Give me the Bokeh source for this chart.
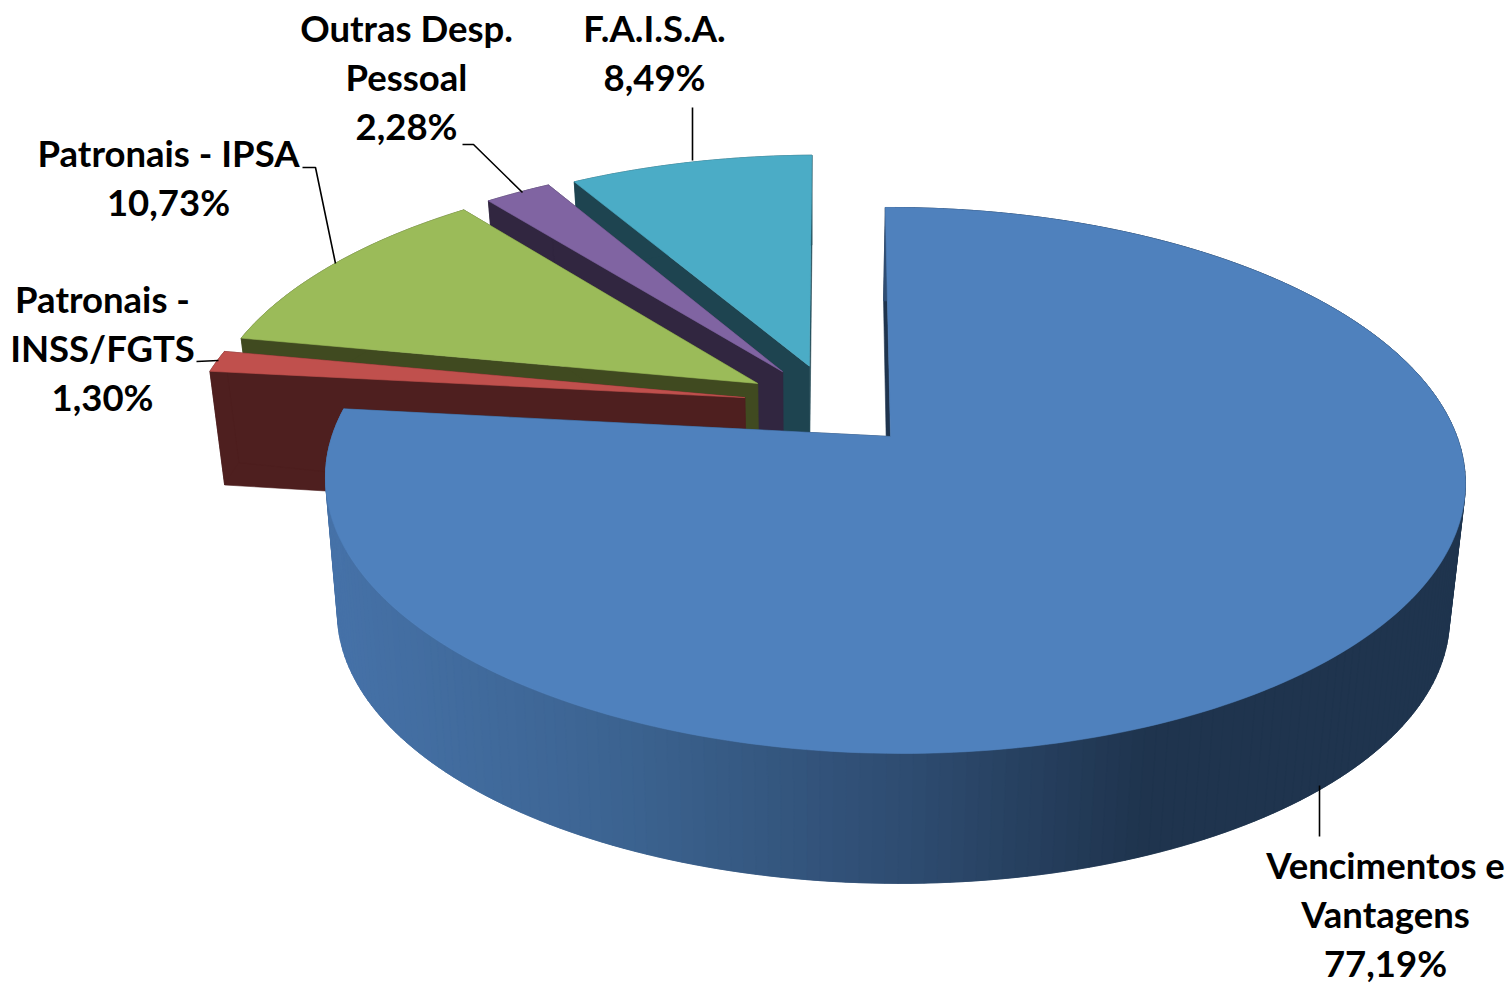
import numpy as np
from bokeh.plotting import figure
from bokeh.embed import file_html
from bokeh.resources import INLINE
from bokeh.core.properties import value

# ---- data (clockwise from 12 o'clock) ----
categories = ["Vencimentos e Vantagens", "Patronais - INSS/FGTS", "Patronais - IPSA",
              "Outras Desp. Pessoal", "F.A.I.S.A."]
shares = [77.19, 1.30, 10.73, 2.28, 8.49]
label_lines = [["Vencimentos e", "Vantagens"], ["Patronais -", "INSS/FGTS"],
               ["Patronais - IPSA"], ["Outras Desp.", "Pessoal"], ["F.A.I.S.A."]]

# ---- styles / layout ----
top_colors = ["#4F81BD", "#C0504D", "#9BBB59", "#8064A2", "#4BACC6"]
wall_colors = [None, "#4E1F1F", "#404A20", "#312640", "#1E4450"]
label_cx = [1385, 102, 168, 406, 654]
label_y0 = [879, 313, 167, 42, 42]
TEXT_DY = -15
line_h = 49.2
leaders = [([1319, 1319], [785, 836]),
           ([196, 218], [361, 360]),
           ([302, 315, 335], [167, 167, 263]),
           ([462, 473, 522], [144, 144, 192]),
           ([692, 692], [107, 160])]

# projection of the pie plane on the page (perspective)
X0, Y0, A, B, C, K, M = 890.0, 436.0, 562.5, 265.9, -5.5, 0.161, -0.007
EXPLODE = 0.161
RAD = [1.0, 1.01, 1.01, 1.008, 1.0]
VPX, SHRINK = 811.0, 0.0245
D_Y, D_V = [180, 373, 490, 753], [90, 114, 135, 130]
# small angular correction of the projection towards the far left of the pie (degrees)
WARP_AT, WARP_BY = [0, 270, 285, 320, 345, 360], [0.05, 1.9, 1.7, 0.0, 0.0, 0.45]


def project(u, v):
    w = 1 + K * v + M * u
    return X0 + (A * u + C * v) / w, Y0 - B * v / w


def lower(x, y):
    return x - SHRINK * (x - VPX), y + np.interp(y, D_Y, D_V)


def warp(th):
    return th - np.radians(np.interp(np.degrees(th), WARP_AT, WARP_BY))


def wall_shade(x):
    stops_x = [330, 600, 900, 1150, 1470]
    stops = np.array([[0x46, 0x72, 0xA8], [0x3D, 0x65, 0x93], [0x2F, 0x4D, 0x72],
                      [0x1F, 0x34, 0x4E], [0x1F, 0x34, 0x4E]])
    return "#%02x%02x%02x" % tuple(int(np.interp(x, stops_x, stops[:, i])) for i in range(3))


fracs = np.array(shares) / sum(shares)
ends = np.cumsum(fracs) * 2 * np.pi
starts = ends - fracs * 2 * np.pi
bis = (starts + ends) / 2
cu, cv = -EXPLODE * np.sin(bis[0]), -EXPLODE * np.cos(bis[0])  # pie centre, blue slice is at (0,0)

p = figure(width=1512, height=984, x_range=(0, 1512), y_range=(984, 0),
           output_backend="svg", toolbar_location=None, min_border=0)
p.axis.visible = False
p.grid.visible = False
p.outline_line_color = None
p.background_fill_color = "white"
p.border_fill_color = "white"


def poly(xs, ys, color):
    p.patch(list(xs), list(ys), fill_color=color, line_color=color, line_width=0.6)


for i in [4, 3, 2, 1, 0]:
    au = cu + EXPLODE * np.sin(bis[i])
    av = cv + EXPLODE * np.cos(bis[i])
    n = max(6, int((ends[i] - starts[i]) / 0.02))
    th = warp(np.linspace(starts[i], ends[i], n))
    ax, ay = project(au, av)
    rx, ry = project(au + RAD[i] * np.sin(th), av + RAD[i] * np.cos(th))
    lax, lay = lower(ax, ay)
    lrx, lry = lower(rx, ry)
    edge_col = wall_colors[i] or "#1F344E"
    # cut faces
    poly([ax, rx[0], lrx[0], lax], [ay, ry[0], lry[0], lay], edge_col)
    poly([ax, rx[-1], lrx[-1], lax], [ay, ry[-1], lry[-1], lay], edge_col)
    # outer rim
    if wall_colors[i]:
        poly(list(rx) + list(lrx[::-1]), list(ry) + list(lry[::-1]), edge_col)
    else:
        for j in range(n - 1):
            k = min(j + 2, n - 1)  # overlap the next facet so that no seams show
            poly([rx[j], rx[k], lrx[k], lrx[j]], [ry[j], ry[k], lry[k], lry[j]],
                 wall_shade((rx[j] + rx[j + 1]) / 2))
    # top face
    poly([ax] + list(rx), [ay] + list(ry), top_colors[i])

for (lx, ly) in leaders:
    p.line(lx, ly, line_color="black", line_width=1.6)

for i in range(len(shares)):
    pct = f"{shares[i]:.2f}%".replace(".", ",")
    for j, s in enumerate(label_lines[i] + [pct]):
        p.text([label_cx[i]], [label_y0[i] + j * line_h + TEXT_DY], text=[s], text_align="center",
               text_baseline="alphabetic", text_font=value("Lato"), text_font_style="bold",
               text_font_size="36.5px", text_color="black")

open("out.html", "w").write(file_html(p, INLINE))
